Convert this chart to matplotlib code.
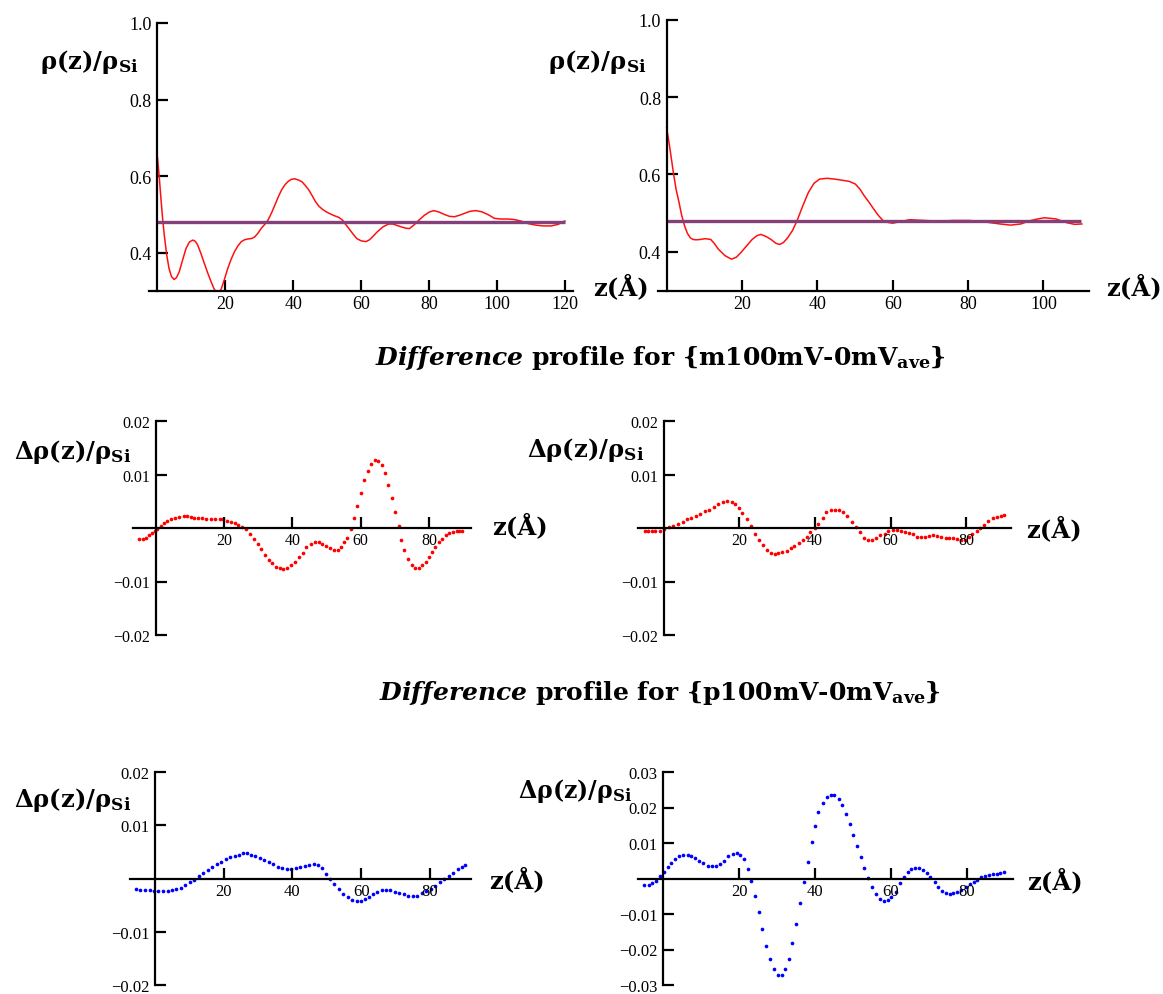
import matplotlib
matplotlib.use("Agg")
import matplotlib.pyplot as plt

plt.rcParams['font.family'] = ['Liberation Serif', 'DejaVu Serif']
plt.rcParams['mathtext.fontset'] = 'custom'
plt.rcParams['mathtext.rm'] = 'DejaVu Serif:bold'
plt.rcParams['mathtext.bf'] = 'DejaVu Serif:bold'
plt.rcParams['mathtext.it'] = 'DejaVu Serif:bold:italic'

# ---------------- data ----------------
# top-left density profile
tl_z = [0, 0.5, 1.0, 1.5, 2.0, 2.7, 3.4, 4.1, 4.9, 5.6, 6.4, 7.4, 8.4, 9.4, 10.4, 11.1, 11.8,
        12.8, 13.8, 14.8, 15.8, 16.6, 17.3, 18.0, 18.8, 19.7, 20.7, 21.7, 22.7, 23.7, 24.7,
        25.7, 26.7, 27.7, 28.6, 29.6, 30.6, 31.6, 32.6, 33.6, 34.6, 35.6, 36.6, 37.6, 38.6,
        39.5, 40.4, 41.5, 42.6, 43.5, 44.5, 45.5, 46.5, 47.5, 48.5, 49.5, 50.5, 52.0, 53.5,
        54.5, 55.5, 56.4, 57.5, 58.7, 60.0, 61.4, 62.5, 63.6, 64.8, 66.5, 68.1, 69.3, 70.3,
        72.0, 73.2, 74.2, 75.5, 77.0, 78.5, 80.0, 81.4, 83.0, 84.5, 86.0, 87.5, 89.0, 90.5,
        92.0, 93.7, 95.5, 97.5, 99.2, 101.0, 103.0, 104.8, 107.0, 109.2, 111.5, 113.6, 116.0,
        118.0, 120.0]
tl_rho = [0.648, 0.600, 0.543, 0.490, 0.446, 0.395, 0.359, 0.338, 0.330, 0.335, 0.350, 0.381,
          0.411, 0.428, 0.433, 0.430, 0.421, 0.398, 0.372, 0.347, 0.324, 0.307, 0.296, 0.292,
          0.306, 0.330, 0.359, 0.383, 0.403, 0.418, 0.429, 0.434, 0.436, 0.437, 0.441, 0.451,
          0.464, 0.474, 0.486, 0.504, 0.525, 0.546, 0.565, 0.578, 0.587, 0.592, 0.593, 0.590,
          0.585, 0.576, 0.565, 0.550, 0.534, 0.522, 0.514, 0.508, 0.503, 0.497, 0.492, 0.485,
          0.473, 0.463, 0.450, 0.437, 0.431, 0.429, 0.434, 0.444, 0.455, 0.468, 0.475, 0.475,
          0.472, 0.467, 0.464, 0.463, 0.472, 0.485, 0.497, 0.506, 0.510, 0.506, 0.500, 0.495,
          0.494, 0.498, 0.503, 0.508, 0.510, 0.507, 0.499, 0.490, 0.488, 0.488, 0.487, 0.483,
          0.476, 0.472, 0.470, 0.470, 0.474, 0.483]
tl_avg = 0.481
tl_avg_z = [0, 120]

# top-right density profile
tr_z = [0, 0.9, 1.8, 2.5, 3.3, 4.0, 4.8, 5.5, 6.3, 7.0, 7.8, 9.0, 10.2, 11.7, 12.7, 13.7, 15.5,
        17.2, 18.5, 19.7, 21.2, 22.7, 24.0, 25.0, 26.3, 27.7, 29.0, 30.0, 31.0, 32.1, 33.4,
        34.6, 36.1, 37.6, 39.1, 40.6, 42.6, 44.6, 46.6, 48.5, 50.1, 51.3, 52.5, 53.8, 55.0,
        56.2, 57.5, 58.7, 60.0, 62.0, 64.5, 68.5, 72.4, 76.0, 80.4, 85.4, 88.5, 91.3, 94.0,
        96.3, 98.5, 100.3, 103.3, 106.3, 108.3, 110.2]
tr_rho = [0.721, 0.665, 0.604, 0.562, 0.527, 0.494, 0.466, 0.448, 0.436, 0.432, 0.431, 0.432,
          0.434, 0.432, 0.421, 0.407, 0.390, 0.381, 0.386, 0.398, 0.415, 0.432, 0.442, 0.445,
          0.440, 0.432, 0.422, 0.419, 0.424, 0.436, 0.455, 0.480, 0.518, 0.553, 0.577, 0.588,
          0.590, 0.588, 0.585, 0.582, 0.575, 0.562, 0.544, 0.527, 0.510, 0.494, 0.480, 0.476,
          0.474, 0.478, 0.483, 0.481, 0.479, 0.481, 0.481, 0.476, 0.472, 0.469, 0.472, 0.480,
          0.485, 0.488, 0.485, 0.475, 0.471, 0.472]
tr_avg = 0.479
tr_avg_z = [0, 110]

# middle-left difference profile (m100mV)
ml_z = [-4.9, -3.8, -3.0, -2.1, -1.2, -0.4, 0.4, 1.5, 2.4, 3.4, 4.5, 5.7, 6.8, 8.1, 9.1, 10.2,
        11.2, 12.4, 13.6, 14.8, 16.2, 17.4, 18.7, 19.7, 20.9, 22.0, 23.2, 24.2, 25.3, 26.3,
        27.5, 28.8, 29.8, 30.9, 31.9, 33.0, 34.0, 35.2, 36.3, 37.3, 38.4, 39.7, 40.7, 41.9,
        43.1, 44.1, 45.4, 46.6, 47.8, 48.8, 49.9, 51.1, 52.1, 53.2, 54.2, 55.2, 56.1,
        57.2, 58.1, 59.0, 60.1, 60.9, 62.1, 63.0, 64.1, 65.1, 66.1, 67.0, 68.0, 69.1, 70.0,
        71.1, 71.9, 72.8, 73.9, 74.9, 76.0, 77.0, 78.0, 79.1, 80.1, 80.9, 81.9, 82.9, 83.9,
        85.0, 86.0, 87.0, 88.1, 88.9, 89.7]
ml_d = [-0.0021, -0.0021, -0.0018, -0.0014, -0.0010, -0.0006, -0.0002, 0.0004, 0.0009, 0.0014,
        0.0017, 0.0019, 0.0021, 0.0022, 0.0022, 0.0021, 0.0019, 0.0018, 0.0018, 0.0016,
        0.0016, 0.0016, 0.0016, 0.0016, 0.0013, 0.0011, 0.0009, 0.0006, 0.0002, -0.0002,
        -0.0011, -0.0021, -0.0030, -0.0039, -0.0051, -0.0059, -0.0066, -0.0072, -0.0075, -0.0076,
        -0.0074, -0.0069, -0.0063, -0.0055, -0.0046, -0.0036, -0.0029, -0.0026, -0.0026, -0.0029,
        -0.0034, -0.0038, -0.0041, -0.0041, -0.0035, -0.0027, -0.0018,
        -0.0002, 0.0019, 0.0041, 0.0066, 0.0089, 0.0106, 0.0120, 0.0127, 0.0125, 0.0117,
        0.0102, 0.0081, 0.0056, 0.0030, 0.0003, -0.0022,
        -0.0041, -0.0058, -0.0069, -0.0074, -0.0074, -0.0069, -0.0063, -0.0054, -0.0044, -0.0035,
        -0.0027, -0.0021, -0.0014, -0.0010, -0.0007, -0.0006, -0.0005, -0.0005]

# middle-right difference profile (m100mV)
mr_z = [-5.0, -4.1, -3.1, -2.2, -0.9, 0.2, 1.4, 2.6, 3.8, 5.0, 6.1, 7.3, 8.5, 9.6, 10.9, 12.0,
        13.2, 14.4, 15.6, 16.7, 18.0, 18.9, 19.9, 20.8, 21.9, 23.0, 24.1, 25.1, 26.2, 27.2,
        28.4, 29.3, 30.3, 31.4, 32.5, 33.6, 34.5, 35.7, 36.7, 37.8, 38.8, 39.9, 40.9, 42.1,
        43.0, 44.2, 45.4, 46.4, 47.5, 48.5, 49.7, 50.8, 51.8, 53.0, 53.9, 55.1, 56.1, 57.2,
        58.4, 59.4, 60.5, 61.7, 62.7, 63.9, 64.8, 65.9, 67.0, 68.1, 69.1, 70.2, 71.1, 72.2,
        73.3, 74.5, 75.5, 76.4, 77.6, 78.5, 79.7, 80.6, 81.6, 82.8, 83.7, 84.7, 85.8, 86.9,
        88.0, 89.1, 90.0]
mr_d = [-0.0006, -0.0006, -0.0006, -0.0006, -0.0005, -0.0002, 0.0001, 0.0004, 0.0008, 0.0012,
        0.0016, 0.0019, 0.0023, 0.0027, 0.0031, 0.0034, 0.0039, 0.0044, 0.0049, 0.0051,
        0.0049, 0.0045, 0.0038, 0.0028, 0.0016, 0.0003, -0.0011, -0.0022, -0.0032, -0.0041,
        -0.0047, -0.0049, -0.0047, -0.0045, -0.0043, -0.0038, -0.0034, -0.0028, -0.0023, -0.0016,
        -0.0008, 0.0000, 0.0008, 0.0019, 0.0029, 0.0033, 0.0034, 0.0033, 0.0029, 0.0022,
        0.0011, 0.0002, -0.0008, -0.0019, -0.0023, -0.0022, -0.0019, -0.0014, -0.0011, -0.0006,
        -0.0004, -0.0004, -0.0006, -0.0008, -0.0009, -0.0012, -0.0016, -0.0017, -0.0017, -0.0015,
        -0.0014, -0.0015, -0.0016, -0.0018, -0.0019, -0.0019, -0.0020, -0.0022, -0.0022, -0.0016,
        -0.0011, -0.0006, 0.0000, 0.0006, 0.0014, 0.0018, 0.0021, 0.0023, 0.0024]

# bottom-left difference profile (p100mV)
bl_z = [-5.4, -4.2, -2.8, -1.5, -0.2, 1.0, 2.4, 3.7, 5.0, 6.3, 7.6, 8.9, 10.2, 11.5, 12.8, 14.1,
        15.4, 16.7, 18.1, 19.3, 20.7, 21.9, 23.3, 24.5, 25.7, 26.9, 28.0, 29.2, 30.6, 31.8,
        33.2, 34.4, 35.8, 37.1, 38.4, 39.7, 41.0, 42.3, 43.6, 44.9, 46.2, 47.5, 48.5, 49.7,
        50.9, 52.2, 53.5, 54.8, 56.2, 57.4, 58.8, 59.8, 61.1, 62.2, 63.5, 64.7, 65.9, 67.1,
        68.4, 69.7, 71.0, 72.3, 73.6, 74.9, 76.2, 77.6, 78.8, 80.2, 81.4, 82.8, 84.0, 85.4,
        86.6, 88.0, 89.2, 90.1]
bl_d = [-0.0020, -0.0021, -0.0022, -0.0022, -0.0023, -0.0023, -0.0023, -0.0023, -0.0022, -0.0020,
        -0.0017, -0.0012, -0.0007, -0.0002, 0.0004, 0.0010, 0.0016, 0.0022, 0.0027, 0.0031,
        0.0036, 0.0040, 0.0043, 0.0045, 0.0047, 0.0047, 0.0045, 0.0042, 0.0039, 0.0035,
        0.0031, 0.0027, 0.0022, 0.0019, 0.0017, 0.0017, 0.0019, 0.0022, 0.0024, 0.0026,
        0.0027, 0.0025, 0.0019, 0.0008, -0.0001, -0.0011, -0.0020, -0.0029, -0.0035, -0.0040,
        -0.0042, -0.0042, -0.0039, -0.0034, -0.0029, -0.0025, -0.0022, -0.0021, -0.0022, -0.0025,
        -0.0027, -0.0030, -0.0032, -0.0032, -0.0032, -0.0027, -0.0023, -0.0019, -0.0014, -0.0007,
        -0.0001, 0.0005, 0.0011, 0.0017, 0.0022, 0.0025]

# bottom-right difference profile (p100mV)
br_z = [-5.0, -3.9, -2.9, -1.9, -0.9, 0.1, 1.1, 2.1, 3.1, 4.1, 5.2, 6.4, 7.4, 8.4, 9.5, 10.5,
        11.7, 12.8, 13.8, 15.0, 16.0, 17.1, 18.3, 19.3, 20.3, 21.2, 22.2, 23.1, 24.1, 25.1,
        26.1, 27.1, 28.1, 29.1, 30.2, 31.2, 32.0, 33.0, 34.0, 35.0, 36.0, 37.2, 38.1, 39.1,
        40.1, 40.9, 42.1, 43.1, 44.1, 45.1, 46.2, 47.2, 48.2, 49.2, 50.0, 51.0, 52.0, 53.0,
        54.0, 55.1, 56.1, 57.1, 58.3, 59.3, 60.1, 61.3, 62.3, 63.4, 64.4, 65.4, 66.4, 67.4,
        68.4, 69.4, 70.4, 71.5, 72.5, 73.5, 74.5, 75.5, 76.5, 77.5, 78.5, 79.8, 80.8, 81.8,
        82.8, 83.8, 84.8, 85.8, 86.8, 87.9, 88.9, 89.9]
br_d = [-0.0019, -0.0017, -0.0014, -0.0008, 0.0006, 0.0017, 0.0031, 0.0045, 0.0056, 0.0064,
        0.0066, 0.0066, 0.0064, 0.0057, 0.0050, 0.0043, 0.0036, 0.0035, 0.0036, 0.0042,
        0.0050, 0.0062, 0.0069, 0.0073, 0.0067, 0.0054, 0.0028, -0.0007, -0.0049, -0.0093,
        -0.0142, -0.0191, -0.0226, -0.0254, -0.0273, -0.0273, -0.0254, -0.0226, -0.0181, -0.0129,
        -0.0070, -0.0011, 0.0047, 0.0103, 0.0148, 0.0188, 0.0213, 0.0230, 0.0236, 0.0234,
        0.0224, 0.0206, 0.0182, 0.0153, 0.0122, 0.0092, 0.0061, 0.0030, 0.0001, -0.0025,
        -0.0044, -0.0058, -0.0063, -0.0061, -0.0053, -0.0039, -0.0014, 0.0003, 0.0017, 0.0026,
        0.0030, 0.0029, 0.0023, 0.0015, 0.0003, -0.0011, -0.0025, -0.0035, -0.0042, -0.0044,
        -0.0041, -0.0037, -0.0032, -0.0025, -0.0016, -0.0009, -0.0004, 0.0003, 0.0007, 0.0010,
        0.0012, 0.0012, 0.0015, 0.0017]

top_yticks = [0.4, 0.6, 0.8, 1.0]
top_ylabels = ['0.4', '0.6', '0.8', '1.0']
tl_xticks = [20, 40, 60, 80, 100, 120]
tr_xticks = [20, 40, 60, 80, 100]
d_xticks = [20, 40, 60, 80]
d2_yticks = [-0.02, -0.01, 0.01, 0.02]
d2_ylabels = ['\u22120.02', '\u22120.01', '0.01', '0.02']
d3_yticks = [-0.03, -0.02, -0.01, 0.01, 0.02, 0.03]
d3_ylabels = ['\u22120.03', '\u22120.02', '\u22120.01', '0.01', '0.02', '0.03']

W, H = 1163, 995
fig = plt.figure(figsize=(W / 100, H / 100), dpi=100)
fig.patch.set_facecolor('white')


def rect(x0, x1, y_top, y_bot):
    return [x0 / W, 1 - y_bot / H, (x1 - x0) / W, (y_bot - y_top) / H]


def style(ax, xlim, ylim, xticks, yticks, ylabels, fs, zero_axis):
    ax.set_xlim(*xlim)
    ax.set_ylim(*ylim)
    ax.patch.set_alpha(0)
    for s in ('top', 'right'):
        ax.spines[s].set_visible(False)
    ax.spines['left'].set_position(('data', 0))
    if zero_axis:
        ax.spines['bottom'].set_position(('data', 0))
    for s in ('left', 'bottom'):
        ax.spines[s].set_linewidth(1.6)
    ax.set_xticks(xticks)
    ax.set_xticklabels([str(t) for t in xticks])
    ax.set_yticks(yticks)
    ax.set_yticklabels(ylabels)
    ax.tick_params(direction='in', length=8, width=1.6, labelsize=fs, pad=3)
    ax.tick_params(axis='y', pad=4)


LBL = dict(fontsize=17.5, fontweight='bold', family='DejaVu Serif')
RHO = r'$\mathrm{\rho(z)/\rho_{Si}}$'
DRHO = r'$\mathrm{\Delta\rho(z)/\rho_{Si}}$'
ZL = 'z(\u00c5)'


def ftext(px, py, s, **kw):
    return fig.text(px / W, 1 - py / H, s, ha='left', va='center', **kw)


# ---- top-left ----
ax = fig.add_axes(rect(149, 573, 24, 292))
ax.plot(tl_z, tl_rho, color='#ff1010', lw=1.1)
ax.plot(tl_avg_z, [tl_avg, tl_avg], color='#85407a', lw=2.4, solid_capstyle='butt')
style(ax, (-2.5, 122.4), (0.3, 1.0), tl_xticks, top_yticks, top_ylabels, 13, False)
ftext(40, 62, RHO, **LBL)
ftext(593, 287, ZL, **LBL)

# ---- top-right ----
ax = fig.add_axes(rect(657.6, 1089, 20.7, 291.5))
ax.plot(tr_z, tr_rho, color='#ff1010', lw=1.1)
ax.plot(tr_avg_z, [tr_avg, tr_avg], color='#85407a', lw=2.4, solid_capstyle='butt')
style(ax, (-2.4, 112.1), (0.3, 1.0), tr_xticks, top_yticks, top_ylabels, 13, False)
ftext(548, 62, RHO, **LBL)
ftext(1106, 287, ZL, **LBL)

# ---- titles ----
TT = dict(fontsize=18, fontweight='bold', family='DejaVu Serif', ha='center', va='center')
fig.text(660 / W, 1 - 358 / H, r'$\mathit{Difference}$ profile for {m100mV-0mV$_{\mathrm{ave}}$}', **TT)
fig.text(660 / W, 1 - 693 / H, r'$\mathit{Difference}$ profile for {p100mV-0mV$_{\mathrm{ave}}$}', **TT)

# ---- middle-left ----
ax = fig.add_axes(rect(133, 471, 422, 636))
ax.scatter(ml_z, ml_d, s=7, color='#ff0000', linewidths=0)
style(ax, (-6.7, 92.3), (-0.02, 0.02), d_xticks, d2_yticks, d2_ylabels, 11.5, True)
ftext(14, 452, DRHO, **LBL)
ftext(492, 526, ZL, **LBL)

# ---- middle-right ----
ax = fig.add_axes(rect(637.5, 1010.7, 422, 636))
ax.scatter(mr_z, mr_d, s=7, color='#ff0000', linewidths=0)
style(ax, (-6.9, 91.7), (-0.02, 0.02), d_xticks, d2_yticks, d2_ylabels, 11.5, True)
ftext(527, 450, DRHO, **LBL)
ftext(1026, 529, ZL, **LBL)

# ---- bottom-left ----
ax = fig.add_axes(rect(130, 471, 773, 986))
ax.scatter(bl_z, bl_d, s=7, color='#0000ff', linewidths=0)
style(ax, (-7.2, 91.9), (-0.02, 0.02), d_xticks, d2_yticks, d2_ylabels, 12, True)
ftext(14, 800, DRHO, **LBL)
ftext(489, 880, ZL, **LBL)

# ---- bottom-right ----
ax = fig.add_axes(rect(638, 1013, 773, 986))
ax.scatter(br_z, br_d, s=7, color='#0000ff', linewidths=0)
style(ax, (-6.7, 92.2), (-0.03, 0.03), d_xticks, d3_yticks, d3_ylabels, 12, True)
ftext(518, 791, DRHO, fontsize=17, fontweight='bold', family='DejaVu Serif')
ftext(1027, 881, ZL, **LBL)

fig.savefig('out.png', dpi=100, facecolor='white')
